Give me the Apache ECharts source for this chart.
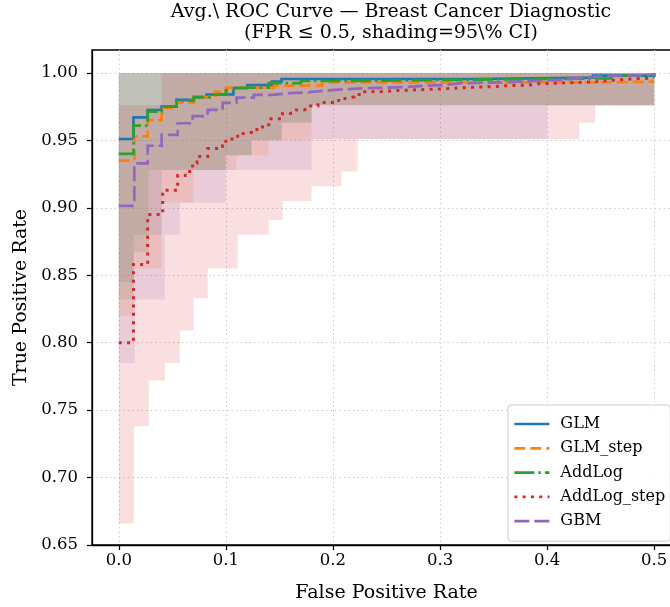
<!DOCTYPE html>
<html>
<head>
<meta charset="utf-8">
<script src="https://cdn.jsdelivr.net/npm/echarts@6/dist/echarts.min.js"></script>
<style>html,body{margin:0;padding:0;background:#fff}#c{width:670px;height:607px}</style>
</head>
<body>
<div id="c"></div>
<script>
// ---- tick labels ----
const xTicks = [0, 0.1, 0.2, 0.3, 0.4, 0.5];
const yTicks = [0.65, 0.70, 0.75, 0.80, 0.85, 0.90, 0.95, 1.00];

// ---- model names / colours ----
const modelNames = ['GLM', 'GLM_step', 'AddLog', 'AddLog_step', 'GBM'];
const modelColors = ['#1f77b4', '#ff7f0e', '#2ca02c', '#d62728', '#9467bd'];

// ---- mean ROC curves (fpr, tpr), step functions ----
const glmCurve = [[0,0.951],[0.0137,0.967],[0.027,0.9725],[0.040,0.975],[0.054,0.980],[0.070,0.982],[0.082,0.984],[0.107,0.9887],[0.120,0.991],[0.143,0.9935],[0.152,0.9955],[0.330,0.9965],[0.443,0.998],[0.500,1.000]];
const glmStepCurve = [[0,0.935],[0.0147,0.953],[0.027,0.965],[0.040,0.974],[0.054,0.978],[0.070,0.982],[0.090,0.986],[0.100,0.989],[0.145,0.9906],[0.190,0.993],[0.450,0.9935],[0.500,0.994]];
const addLogCurve = [[0,0.940],[0.0137,0.961],[0.027,0.9713],[0.040,0.975],[0.054,0.9795],[0.070,0.982],[0.085,0.984],[0.100,0.987],[0.110,0.989],[0.140,0.9924],[0.170,0.994],[0.200,0.995],[0.330,0.996],[0.460,0.998],[0.500,0.999]];
const addLogStepCurve = [[0,0.800],[0.0137,0.858],[0.027,0.895],[0.041,0.913],[0.055,0.924],[0.062,0.927],[0.069,0.933],[0.073,0.938],[0.083,0.944],[0.097,0.946],[0.100,0.951],[0.111,0.955],[0.119,0.956],[0.124,0.958],[0.131,0.960],[0.140,0.966],[0.153,0.970],[0.160,0.971],[0.166,0.9726],[0.173,0.974],[0.179,0.9755],[0.186,0.978],[0.201,0.9795],[0.207,0.981],[0.214,0.9824],[0.220,0.984],[0.227,0.986],[0.242,0.9869],[0.258,0.9874],[0.275,0.988],[0.297,0.989],[0.321,0.990],[0.353,0.9905],[0.361,0.991],[0.384,0.992],[0.392,0.9928],[0.423,0.9935],[0.447,0.9946],[0.462,0.9955],[0.478,0.996],[0.493,0.9965],[0.500,0.997]];
const gbmCurve = [[0,0.9015],[0.0145,0.933],[0.027,0.946],[0.040,0.954],[0.055,0.9627],[0.069,0.968],[0.083,0.9726],[0.097,0.9778],[0.110,0.9817],[0.126,0.9837],[0.143,0.985],[0.160,0.9857],[0.178,0.987],[0.195,0.988],[0.212,0.9887],[0.232,0.989],[0.249,0.9895],[0.267,0.9904],[0.284,0.991],[0.303,0.9924],[0.320,0.993],[0.356,0.9935],[0.373,0.994],[0.391,0.9948],[0.410,0.996],[0.427,0.9973],[0.445,0.9978],[0.463,0.998],[0.480,0.999],[0.500,1.000]];

// ---- 95% CI bands (step functions: x, lower, upper) ----
const glmBandX  = [0, 0.014, 0.040, 0.100, 0.124, 0.152, 0.180, 0.500];
const glmBandLo = [0.845, 0.880, 0.928, 0.939, 0.950, 0.963, 0.976, 0.976];
const glmBandHi = [1, 1, 1, 1, 1, 1, 1, 1];

const glmStepBandX  = [0, 0.014, 0.040, 0.070, 0.110, 0.140, 0.180, 0.500];
const glmStepBandLo = [0.820, 0.855, 0.904, 0.928, 0.939, 0.950, 0.976, 0.976];
const glmStepBandHi = [1, 1, 1, 1, 1, 1, 1, 1];

const addLogBandX  = [0, 0.014, 0.028, 0.100, 0.124, 0.152, 0.180, 0.500];
const addLogBandLo = [0.832, 0.867, 0.928, 0.939, 0.950, 0.963, 0.976, 0.976];
const addLogBandHi = [1, 1, 1, 1, 1, 1, 1, 1];

const addLogStepBandX  = [0, 0.014, 0.028, 0.040, 0.043, 0.057, 0.070, 0.083, 0.111, 0.140, 0.153, 0.180, 0.208, 0.223, 0.430, 0.445, 0.500];
const addLogStepBandLo = [0.666, 0.738, 0.772, 0.772, 0.785, 0.809, 0.833, 0.855, 0.880, 0.891, 0.905, 0.916, 0.927, 0.951, 0.963, 0.976, 0.976];
const addLogStepBandHi = [0.976, 0.976, 0.976, 1, 1, 1, 1, 1, 1, 1, 1, 1, 1, 1, 1, 1, 1];

const gbmBandX  = [0, 0.015, 0.043, 0.057, 0.100, 0.180, 0.400, 0.500];
const gbmBandLo = [0.785, 0.832, 0.880, 0.904, 0.928, 0.951, 0.976, 0.976];
const gbmBandHi = [1, 1, 1, 1, 1, 1, 1, 1];

const curves = [glmCurve, glmStepCurve, addLogCurve, addLogStepCurve, gbmCurve];
const bands = [
  [glmBandX, glmBandLo, glmBandHi],
  [glmStepBandX, glmStepBandLo, glmStepBandHi],
  [addLogBandX, addLogBandLo, addLogBandHi],
  [addLogStepBandX, addLogStepBandLo, addLogStepBandHi],
  [gbmBandX, gbmBandLo, gbmBandHi]
];
const lineDash = ['solid', [11, 5], [20, 4, 2.5, 4], [3, 5.3], [15, 5]];
const lineWidths = [2.7, 2.7, 2.7, 3, 2.7];

const FONT = 'DejaVu Serif';

function hexA(hex, a) {
  const r = parseInt(hex.slice(1,3),16), g = parseInt(hex.slice(3,5),16), b = parseInt(hex.slice(5,7),16);
  return 'rgba(' + r + ',' + g + ',' + b + ',' + a + ')';
}

const series = [];
bands.forEach((b, k) => {
  const bx = b[0], lo = b[1], hi = b[2];
  series.push({
    type: 'custom',
    name: modelNames[k] + ' CI',
    silent: true,
    clip: true,
    z: 1,
    data: [[bx[0], lo[0]]],
    renderItem: function (params, api) {
      const n = bx.length, pts = [];
      for (let i = 0; i < n; i++) {
        pts.push(api.coord([bx[i], lo[i]]));
        if (i < n - 1) pts.push(api.coord([bx[i + 1], lo[i]]));
      }
      for (let i = n - 1; i >= 0; i--) {
        pts.push(api.coord([bx[i], hi[i]]));
        if (i > 0) pts.push(api.coord([bx[i], hi[i - 1]]));
      }
      return { type: 'polygon', shape: { points: pts }, style: { fill: hexA(modelColors[k], 0.15), stroke: null } };
    }
  });
});
curves.forEach((c, k) => {
  series.push({
    type: 'line',
    name: modelNames[k],
    data: c,
    step: 'end',
    symbol: 'none',
    z: 3 + k,
    color: modelColors[k],
    lineStyle: { color: modelColors[k], width: lineWidths[k], type: lineDash[k], cap: 'butt', join: 'miter' }
  });
});

const chart = echarts.init(document.getElementById('c'), null, { renderer: 'canvas' });
chart.setOption({
  animation: false,
  backgroundColor: '#fff',
  title: {
    text: 'Avg.\\ ROC Curve — Breast Cancer Diagnostic\n(FPR ≤ 0.5, shading=95\\% CI)',
    left: 386, top: -3, textAlign: 'center',
    textStyle: { fontFamily: FONT, fontSize: 19, fontWeight: 'normal', color: '#000', lineHeight: 21 }
  },
  grid: { left: 92, top: 50, width: 589, bottom: 62, show: true, borderColor: '#000', borderWidth: 1.3, backgroundColor: 'transparent', containLabel: false, outerBoundsMode: 'none' },
  legend: {
    data: modelNames,
    orient: 'vertical',
    left: 508, top: 405,
    itemWidth: 35, itemHeight: 12, itemGap: 8.3,
    padding: [11, 5, 12, 5],
    backgroundColor: 'rgba(255,255,255,0.85)',
    borderColor: '#cccccc', borderWidth: 1, borderRadius: 3,
    itemStyle: { color: 'rgba(0,0,0,0)', borderColor: 'rgba(0,0,0,0)', borderWidth: 0 },
    lineStyle: { width: 2.7 },
    textStyle: { fontFamily: FONT, fontSize: 16, color: '#000', padding: [0, 0, 0, 6], lineHeight: 16 }
  },
  xAxis: {
    type: 'value', min: -0.025, max: 0.525,
    name: 'False Positive Rate', nameLocation: 'middle', nameGap: 39,
    nameTextStyle: { fontFamily: FONT, fontSize: 19, color: '#000' },
    axisLine: { show: true, onZero: false, lineStyle: { color: '#000', width: 1.3 } },
    axisTick: { show: true, customValues: xTicks, length: 5, lineStyle: { color: '#000', width: 1.2 } },
    axisLabel: { customValues: xTicks, formatter: v => v.toFixed(1), fontFamily: FONT, fontSize: 16.5, color: '#000', margin: 7 },
    splitLine: { show: true, lineStyle: { color: '#cccccc', width: 1, type: [1.5, 3] } }
  },
  yAxis: {
    type: 'value', min: 0.65, max: 1.017,
    name: 'True Positive Rate', nameLocation: 'middle', nameGap: 57,
    nameTextStyle: { fontFamily: FONT, fontSize: 19, color: '#000' },
    axisLine: { show: true, onZero: false, lineStyle: { color: '#000', width: 1.3 } },
    axisTick: { show: true, customValues: yTicks, length: 5, lineStyle: { color: '#000', width: 1.2 } },
    axisLabel: { customValues: yTicks, formatter: v => v.toFixed(2), fontFamily: FONT, fontSize: 16.5, color: '#000', margin: 14 },
    splitLine: { show: true, lineStyle: { color: '#cccccc', width: 1, type: [1.5, 3] } }
  },
  series: series
});
</script>
</body>
</html>
